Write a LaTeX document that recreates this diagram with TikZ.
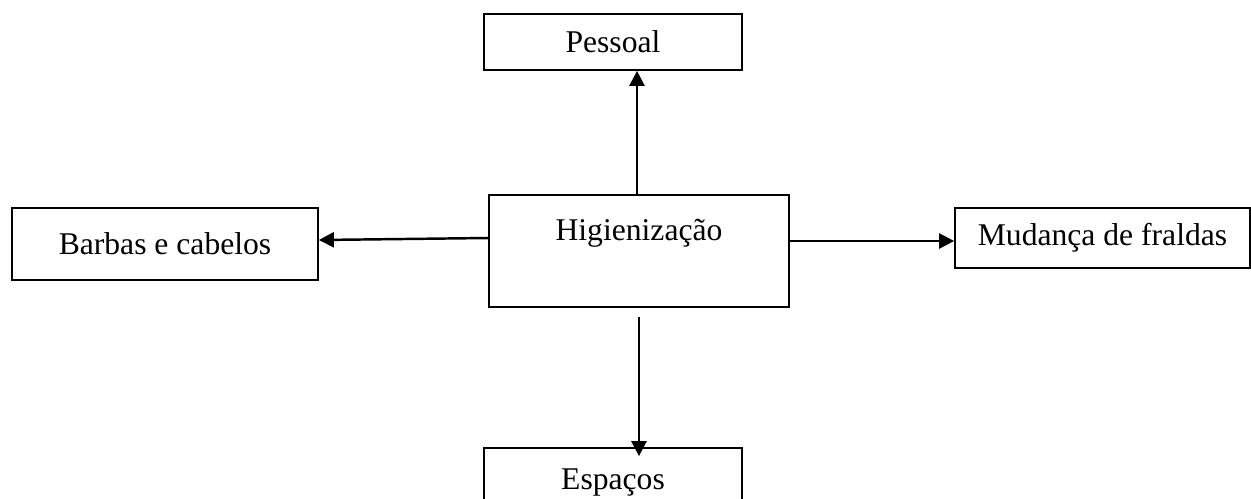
\documentclass[tikz,border=0pt]{standalone}
\usepackage{fontspec}
\setmainfont{Liberation Serif}
\usetikzlibrary{arrows.meta, positioning}

\begin{document}
\begin{tikzpicture}[x=0.02cm, y=-0.02cm, >={Triangle[length=0.3cm, width=0.3cm]},
    every node/.style={font=\fontsize{18}{22}\selectfont},
    box/.style={draw, line width=1pt, inner sep=0pt},
    arr/.style={->, line width=1.4pt}]
    \useasboundingbox (0,0) rectangle (1251,498);
    \node[box, minimum width=5.16cm, minimum height=1.12cm] (pessoal) at (613,42) {Pessoal};
    \node[box, minimum width=6.0cm, minimum height=2.24cm, text height=0.5cm, text depth=0.94cm] (higien) at (639,251) {Higienização};
    \node[box, minimum width=6.12cm, minimum height=1.44cm] (barbas) at (165,244) {Barbas e cabelos};
    \node[box, minimum width=5.9cm, minimum height=1.2cm] (mudanca) at (1102.5,238) {Mudança de fraldas};
    \node[box, minimum width=5.16cm, minimum height=1.4cm] (espacos) at (613,483) {Espaços};
    \draw[arr] ([xshift=-0.04cm]higien.north) -- ([xshift=-0.04cm]higien.north |- pessoal.south);
    \draw[arr] ([yshift=0.26cm]higien.west) -- ([yshift=0.08cm]barbas.east);
    \draw[arr] ([yshift=0.2cm]higien.east) -- ([yshift=0.2cm]higien.east -| mudanca.west);
    \draw[arr] ([yshift=-0.18cm]higien.south) -- ([yshift=-0.18cm]higien.south |- espacos.north);
\end{tikzpicture}
\end{document}
